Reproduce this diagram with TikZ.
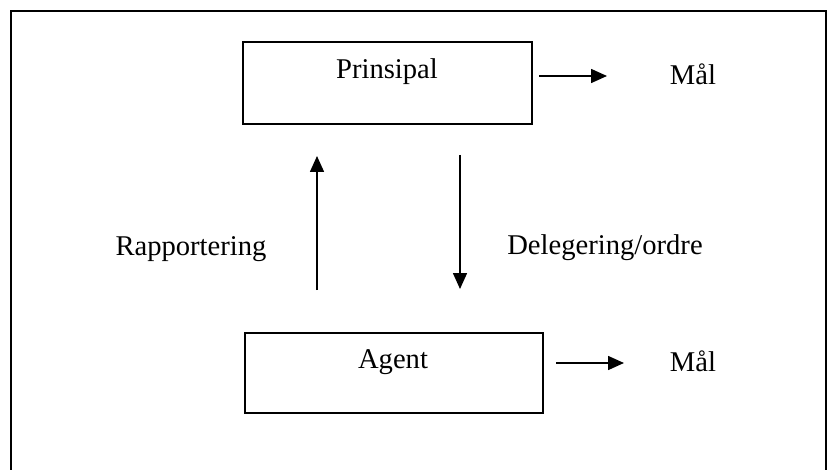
\documentclass[tikz,border=0pt]{standalone}
\usepackage{fontspec}
\setmainfont{Liberation Serif}
\usetikzlibrary{arrows.meta,positioning}

\begin{document}
\begin{tikzpicture}[
  x=0.5pt, y=-0.5pt,
  box/.style={draw, line width=0.8pt, inner sep=0pt},
  txt/.style={font=\fontsize{14.3}{16}\selectfont, inner sep=0pt},
  arr/.style={-{Triangle[length=8pt,width=7pt]}, line width=0.8pt}
]
  \useasboundingbox (0,0) rectangle (829,470);
  % outer frame, open at the bottom
  \draw[line width=1pt] (11,470) -- (11,11) -- (826,11) -- (826,470);

  \node[box, minimum width=144.5pt, minimum height=41pt] (prin)  at (387.5,83) {};
  \node[box, minimum width=149pt,   minimum height=40pt] (agent) at (394,373) {};
  \node[txt] (prinlbl)  at (387,72)  {Prinsipal};
  \node[txt] (agentlbl) at (393,362) {Agent};

  \node[txt] (mal1) at (693,74)  {Mål};
  \node[txt] (mal2) at (693,361) {Mål};
  \node[txt] (rapp) at (191,249) {Rapportering};
  \node[txt] (dele) at (605,248) {Delegering/ordre};

  \coordinate (m1s) at (539,76);
  \coordinate (m1e) at (607,76);
  \coordinate (m2s) at (556,363);
  \coordinate (m2e) at (624,363);
  \coordinate (ups) at (317,290);
  \coordinate (upe) at (317,156);
  \coordinate (dns) at (460,155);
  \coordinate (dne) at (460,289);

  \draw[arr] (m1s) -- (m1e);
  \draw[arr] (m2s) -- (m2e);
  \draw[arr] (ups) -- (upe);
  \draw[arr] (dns) -- (dne);
\end{tikzpicture}
\end{document}
